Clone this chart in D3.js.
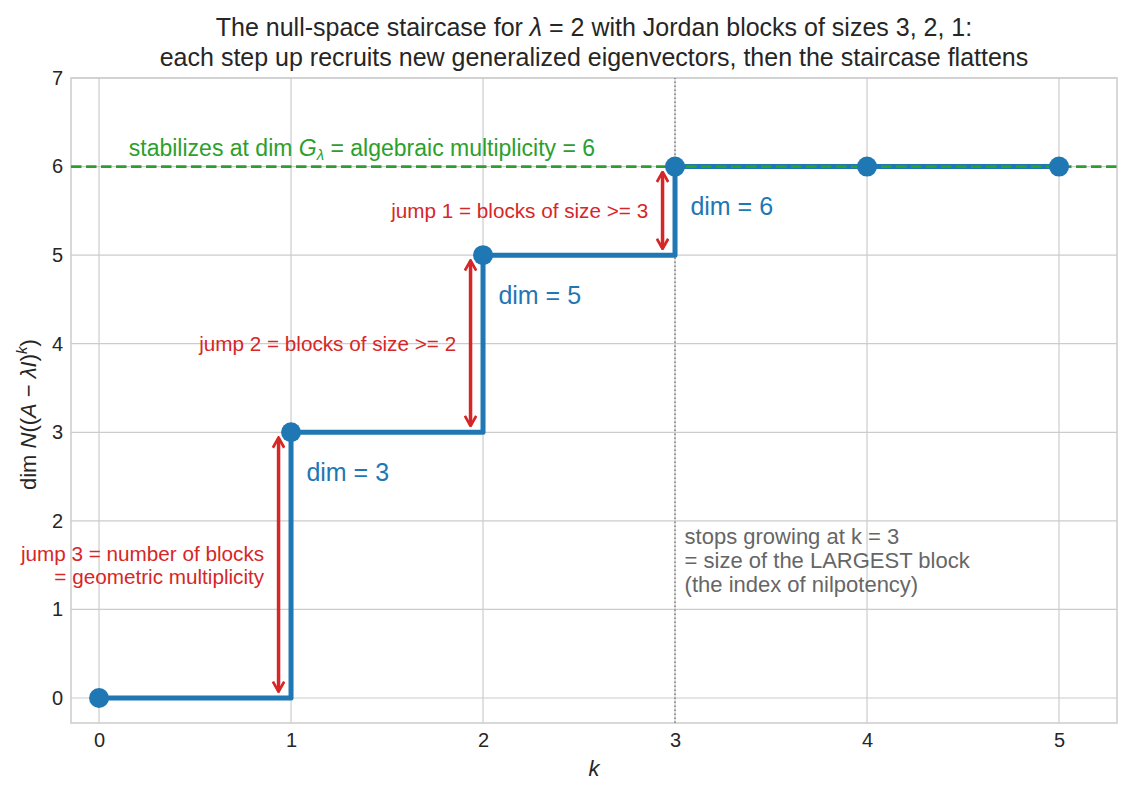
<!DOCTYPE html>
<html>
<head>
<meta charset="utf-8">
<script src="https://cdn.jsdelivr.net/npm/d3@7"></script>
<style>
  body { margin: 0; background: white; }
  text { font-family: "Liberation Sans", Arial, sans-serif; }
</style>
</head>
<body>
<div id="chart"></div>
<script>
// null-space dimensions for k = 0..5
var ks = [0, 1, 2, 3, 4, 5];
var dims = [0, 3, 5, 6, 6, 6];
var xTicks = [0, 1, 2, 3, 4, 5];
var yTicks = [0, 1, 2, 3, 4, 5, 6, 7];
var jumps = [
    {k: 1, from: 0, to: 3, lines: ["jump 3 = number of blocks", "= geometric multiplicity"]},
    {k: 2, from: 3, to: 5, lines: ["jump 2 = blocks of size >= 2"]},
    {k: 3, from: 5, to: 6, lines: ["jump 1 = blocks of size >= 3"]}
];
var dimLabels = [1, 2, 3];
var algMult = 6;
var indexK = 3;
var noteLines = ["stops growing at k = 3", "= size of the LARGEST block", "(the index of nilpotency)"];

var W = 1131, H = 794;
var margin = {left: 71, right: 14, top: 78, bottom: 71};

var svg = d3.select("#chart").append("svg")
    .attr("width", W)
    .attr("height", H);

var x = d3.scaleLinear().domain([-0.146, 5.302]).range([margin.left, W - margin.right]);
var y = d3.scaleLinear().domain([-0.282, 7]).range([H - margin.bottom, margin.top]);

var blue = "#1f77b4", red = "#d62728", green = "#2ca02c", grid = "#cccccc";

// grid
svg.append("g").selectAll("line")
    .data(xTicks)
    .join("line")
    .attr("x1", d => x(d)).attr("x2", d => x(d))
    .attr("y1", y.range()[0]).attr("y2", y.range()[1])
    .attr("stroke", grid).attr("stroke-width", 1.2);
svg.append("g").selectAll("line")
    .data(yTicks)
    .join("line")
    .attr("y1", d => y(d)).attr("y2", d => y(d))
    .attr("x1", x.range()[0]).attr("x2", x.range()[1])
    .attr("stroke", grid).attr("stroke-width", 1.2);

// axes
var xAxis = svg.append("g")
    .attr("transform", "translate(0," + y.range()[0] + ")")
    .call(d3.axisBottom(x).tickValues(xTicks).tickFormat(d3.format("d")).tickSize(0).tickPadding(10));
var yAxis = svg.append("g")
    .attr("transform", "translate(" + x.range()[0] + ",0)")
    .call(d3.axisLeft(y).tickValues(yTicks).tickFormat(d3.format("d")).tickSize(0).tickPadding(8));
[xAxis, yAxis].forEach(a => {
    a.select(".domain").remove();
    a.attr("font-size", 20).attr("font-family", null);
    a.selectAll("text")
        .attr("fill", "#262626");
});

// frame
svg.append("rect")
    .attr("x", x.range()[0]).attr("y", y.range()[1])
    .attr("width", x.range()[1] - x.range()[0])
    .attr("height", y.range()[0] - y.range()[1])
    .attr("fill", "none")
    .attr("stroke", grid)
    .attr("stroke-width", 1.5);

// dotted line at index
svg.append("line")
    .attr("x1", x(indexK)).attr("x2", x(indexK))
    .attr("y1", y.range()[0]).attr("y2", y.range()[1])
    .attr("stroke", "#808080")
    .attr("stroke-width", 1.5)
    .attr("stroke-dasharray", "1.5,2.5");

// staircase
var pts = ks.map((k, i) => [k, dims[i]]);
svg.append("path")
    .datum(pts)
    .attr("fill", "none")
    .attr("stroke", blue)
    .attr("stroke-width", 5)
    .attr("stroke-linejoin", "round")
    .attr("d", d3.line()
        .x(d => x(d[0]))
        .y(d => y(d[1]))
        .curve(d3.curveStepAfter));

// algebraic multiplicity line
svg.append("line")
    .attr("x1", x.range()[0]).attr("x2", x.range()[1])
    .attr("y1", y(algMult)).attr("y2", y(algMult))
    .attr("stroke", green)
    .attr("stroke-width", 2.8)
    .attr("stroke-dasharray", "10.5,4.5");

svg.append("g").selectAll("circle")
    .data(pts)
    .join("circle")
    .attr("cx", d => x(d[0]))
    .attr("cy", d => y(d[1]))
    .attr("r", 10)
    .attr("fill", blue);

// arrow markers
var defs = svg.append("defs");
defs.append("marker")
    .attr("id", "arrow-red")
    .attr("viewBox", "0 -5 10 10")
    .attr("refX", 8.5)
    .attr("refY", 0)
    .attr("markerWidth", 3.6)
    .attr("markerHeight", 3.6)
    .attr("orient", "auto-start-reverse")
    .append("path")
    .attr("fill", "none")
    .attr("stroke", red)
    .attr("stroke-width", 2.2)
    .attr("stroke-linecap", "butt")
    .attr("stroke-linejoin", "miter")
    .attr("d", "M1,-4.5L9,0L1,4.5");

svg.append("g").selectAll("line")
    .data(jumps)
    .join("line")
    .attr("x1", d => x(d.k - 0.065)).attr("x2", d => x(d.k - 0.065))
    .attr("y1", d => y(d.from) - 7).attr("y2", d => y(d.to) + 6)
    .attr("stroke", red)
    .attr("stroke-width", 3.5)
    .attr("marker-start", "url(#arrow-red)")
    .attr("marker-end", "url(#arrow-red)");

// jump labels
jumps.forEach(j => {
    var mid = (j.from + j.to) / 2;
    var t = svg.append("text")
        .attr("text-anchor", "end")
        .attr("font-size", "20.7px")
        .attr("fill", red)
        .attr("x", x(j.k - 0.14))
        .attr("y", y(mid) - (j.lines.length - 1) * 11.5 + 7);
    j.lines.forEach((s, i) => {
        t.append("tspan").attr("x", x(j.k - 0.14)).attr("dy", i ? 23 : 0).text(s);
    });
});

// dim labels
svg.append("g").selectAll("text")
    .data(dimLabels)
    .join("text")
    .attr("x", d => x(ks[d] + 0.08))
    .attr("y", d => y(dims[d] - 0.45) + 9)
    .attr("font-size", "25px")
    .attr("fill", blue)
    .text(d => "dim = " + dims[d]);

// green label
var g = svg.append("text")
    .attr("x", x(0.155))
    .attr("y", y(6.1) - 2)
    .attr("font-size", "23px")
    .attr("fill", green);
g.append("tspan").text("stabilizes at dim ");
g.append("tspan").attr("font-style", "italic").text("G");
g.append("tspan").attr("font-style", "italic").attr("font-size", "15px").attr("dy", 4).text("λ");
g.append("tspan").attr("dy", -4).text(" = algebraic multiplicity = " + algMult);

// note text
var note = svg.append("text")
    .attr("font-size", "22px")
    .attr("fill", "#666666")
    .attr("x", x(indexK + 0.05))
    .attr("y", y(1.55) - 24 + 7);
noteLines.forEach((s, i) => {
    note.append("tspan").attr("x", x(indexK + 0.05)).attr("dy", i ? 24 : 0).text(s);
});

// title
var title = svg.append("text")
    .attr("text-anchor", "middle")
    .attr("font-size", "25px")
    .attr("fill", "#262626")
    .attr("x", (x.range()[0] + x.range()[1]) / 2)
    .attr("y", 36);
title.append("tspan").text("The null-space staircase for ");
title.append("tspan").attr("font-style", "italic").text("λ");
title.append("tspan").text(" = 2 with Jordan blocks of sizes 3, 2, 1:");
title.append("tspan")
    .attr("x", (x.range()[0] + x.range()[1]) / 2)
    .attr("dy", 30)
    .text("each step up recruits new generalized eigenvectors, then the staircase flattens");

// axis labels
svg.append("text")
    .attr("x", (x.range()[0] + x.range()[1]) / 2)
    .attr("y", 776)
    .attr("text-anchor", "middle")
    .attr("font-size", "22px")
    .attr("font-style", "italic")
    .attr("fill", "#262626")
    .text("k");

var yl = svg.append("text")
    .attr("transform", "translate(36," + y(3.2) + ") rotate(-90)")
    .attr("text-anchor", "middle")
    .attr("font-size", "22px")
    .attr("fill", "#262626");
yl.append("tspan").text("dim ");
yl.append("tspan").attr("font-style", "italic").text("N");
yl.append("tspan").text("((");
yl.append("tspan").attr("font-style", "italic").text("A");
yl.append("tspan").text(" − ");
yl.append("tspan").attr("font-style", "italic").text("λI");
yl.append("tspan").text(")");
yl.append("tspan").attr("font-style", "italic").attr("font-size", "15px").attr("dy", -9).text("k");
yl.append("tspan").attr("dy", 9).text(")");
</script>
</body>
</html>
